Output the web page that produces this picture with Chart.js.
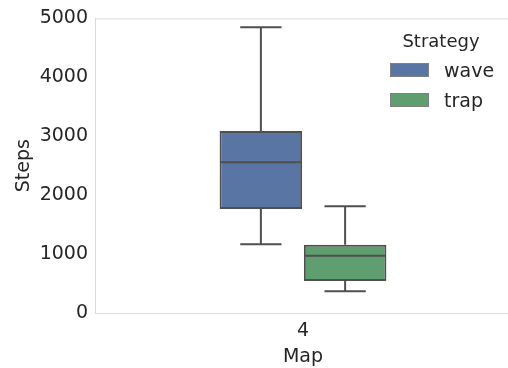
<!DOCTYPE html>
<html>
<head>
<meta charset="utf-8">
<script src="https://cdn.jsdelivr.net/npm/chart.js@4.4.1/dist/chart.umd.min.js"></script>
<style>
  html, body { margin: 0; padding: 0; background: #ffffff; overflow: hidden; }
  #wrap { width: 508px; height: 368px; overflow: hidden; }
</style>
</head>
<body>
<div id="wrap"><canvas id="myChart" width="511" height="368"></canvas></div>
<script>
// Datos
var mapas = ['4'];
var estrategias = ['wave', 'trap'];
var cuartil1 = [1763, 544];
var medianas = [2559, 971];
var cuartil3 = [3089, 1157];
var bigoteBajo = [1167, 370];
var bigoteAlto = [4848, 1813];
var ticksY = [0, 1000, 2000, 3000, 4000, 5000];

var coloresCaja = ['#5975A4', '#5F9E6E'];
var colorLinea = '#4f4f4f';
var colorTexto = '#262626';
var colorMarco = '#d9d9d9';
var fuente = "'DejaVu Sans', sans-serif";

// Cajas como barras flotantes [q1, q3]
var datasets = estrategias.map(function (nombre, i) {
    return {
        label: nombre,
        data: [[cuartil1[i], cuartil3[i]]],
        backgroundColor: coloresCaja[i],
        borderColor: colorLinea,
        borderWidth: 2,
        borderSkipped: false,
        categoryPercentage: 0.405,
        barPercentage: 0.98
    };
});

// Mediana, bigotes y tapas usando las escalas del grafico
var pluginBigotes = {
    id: 'bigotes',
    afterDatasetsDraw: function (chart) {
        var ctx = chart.ctx;
        var y = chart.scales.y;
        ctx.save();
        ctx.strokeStyle = colorLinea;
        ctx.lineWidth = 2;
        chart.data.datasets.forEach(function (ds, i) {
            var barra = chart.getDatasetMeta(i).data[0];
            var cx = barra.x;
            var mitad = barra.width / 2;
            var tapa = mitad / 2;
            var yMed = y.getPixelForValue(medianas[i]);
            var yQ1 = y.getPixelForValue(cuartil1[i]);
            var yQ3 = y.getPixelForValue(cuartil3[i]);
            var yLo = y.getPixelForValue(bigoteBajo[i]);
            var yHi = y.getPixelForValue(bigoteAlto[i]);
            ctx.beginPath();
            ctx.moveTo(cx - mitad + 1, yMed);
            ctx.lineTo(cx + mitad - 1, yMed);
            ctx.moveTo(cx, yQ3);
            ctx.lineTo(cx, yHi);
            ctx.moveTo(cx - tapa, yHi);
            ctx.lineTo(cx + tapa, yHi);
            ctx.moveTo(cx, yQ1);
            ctx.lineTo(cx, yLo);
            ctx.moveTo(cx - tapa, yLo);
            ctx.lineTo(cx + tapa, yLo);
            ctx.stroke();
        });
        ctx.restore();
    }
};

// Marco superior y leyenda dentro del area
var pluginMarcoLeyenda = {
    id: 'marcoLeyenda',
    beforeDatasetsDraw: function (chart) {
        var ctx = chart.ctx;
        var a = chart.chartArea;
        ctx.save();
        ctx.strokeStyle = colorMarco;
        ctx.lineWidth = 1;
        ctx.beginPath();
        ctx.moveTo(a.left, a.top + 0.5);
        ctx.lineTo(a.right, a.top + 0.5);
        ctx.stroke();
        ctx.restore();
    },
    afterDraw: function (chart) {
        var ctx = chart.ctx;
        ctx.save();
        ctx.fillStyle = colorTexto;
        ctx.font = '18px ' + fuente;
        ctx.textBaseline = 'alphabetic';
        ctx.textAlign = 'center';
        ctx.fillText('Strategy', 441, 47);
        ctx.textAlign = 'left';
        ctx.font = '19px ' + fuente;
        estrategias.forEach(function (nombre, i) {
            var top = 63 + i * 30;
            ctx.fillStyle = coloresCaja[i];
            ctx.fillRect(390, top, 39, 14);
            ctx.strokeStyle = '#808080';
            ctx.lineWidth = 1;
            ctx.strokeRect(390.5, top + 0.5, 38, 13);
            ctx.fillStyle = colorTexto;
            ctx.fillText(nombre, 444, top + 14);
        });
        ctx.restore();
    }
};

var ctx = document.getElementById('myChart').getContext('2d');
var myChart = new Chart(ctx, {
    type: 'bar',
    data: {
        labels: mapas,
        datasets: datasets
    },
    plugins: [pluginBigotes, pluginMarcoLeyenda],
    options: {
        responsive: false,
        animation: false,
        devicePixelRatio: 1,
        layout: { padding: { top: 16, right: 0, bottom: 0, left: 0 } },
        plugins: {
            legend: { display: false },
            tooltip: { enabled: false }
        },
        scales: {
            x: {
                grid: { display: false, drawTicks: false },
                border: { display: true, color: colorMarco, width: 1 },
                ticks: { color: colorTexto, font: { family: fuente, size: 19 }, padding: 7 },
                title: {
                    display: true,
                    text: 'Map',
                    color: colorTexto,
                    font: { family: fuente, size: 19 },
                    padding: { top: 2, bottom: 0 }
                },
                afterFit: function (scale) { scale.height = 55; }
            },
            y: {
                min: 0,
                max: 5000,
                grid: { display: false, drawTicks: false },
                border: { display: true, color: colorMarco, width: 1 },
                afterBuildTicks: function (scale) {
                    scale.ticks = ticksY.map(function (v) { return { value: v }; });
                },
                ticks: {
                    color: colorTexto,
                    font: { family: fuente, size: 19 },
                    padding: 7,
                    callback: function (valor) { return String(valor); }
                },
                title: {
                    display: true,
                    text: 'Steps',
                    color: colorTexto,
                    font: { family: fuente, size: 19 },
                    padding: { top: 13, bottom: 0 }
                },
                afterFit: function (scale) { scale.width = 95; }
            }
        }
    }
});
</script>
</body>
</html>
